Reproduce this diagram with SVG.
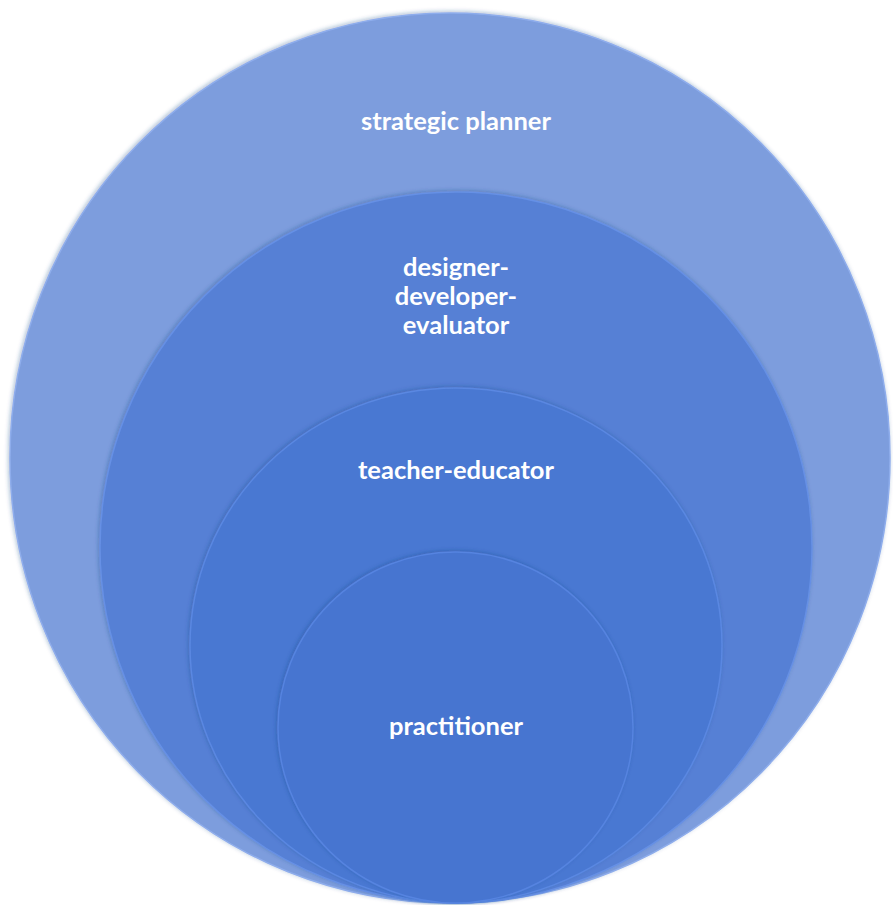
<svg xmlns="http://www.w3.org/2000/svg" width="893" height="905" viewBox="0 0 893 905">
  <defs>
    <filter id="sh" x="-5%" y="-5%" width="110%" height="110%">
      <feDropShadow dx="-1" dy="-1" stdDeviation="2" flood-color="#1f3f80" flood-opacity="0.35"/>
    </filter>
  </defs>
  <style>
    .ring { filter: url(#sh); }
    .lbl { font-family: "Lato", "Liberation Sans", sans-serif; font-weight: bold; font-size: 25.5px; fill: #ffffff; text-anchor: middle; }
  </style>
  <rect width="893" height="905" fill="#ffffff"/>
  <g id="strategic-planner">
    <ellipse class="ring" cx="450" cy="458" rx="440" ry="445" fill="#7d9ddd" stroke="#8eadec" stroke-width="1.5"/>
    <text class="lbl" x="456" y="130">strategic planner</text>
  </g>
  <g id="designer-developer-evaluator">
    <ellipse class="ring" cx="456" cy="547.5" rx="356" ry="355.5" fill="#5680d5" stroke="#6690e5" stroke-width="1.5"/>
    <text class="lbl" x="456" y="276">designer-</text>
    <text class="lbl" x="456" y="305">developer-</text>
    <text class="lbl" x="456" y="334">evaluator</text>
  </g>
  <g id="teacher-educator">
    <ellipse class="ring" cx="456" cy="645.5" rx="266" ry="257.5" fill="#4a78d2" stroke="#5a88e2" stroke-width="1.5"/>
    <text class="lbl" x="456" y="479">teacher-educator</text>
  </g>
  <g id="practitioner">
    <ellipse class="ring" cx="455.5" cy="727.5" rx="177.5" ry="175.5" fill="#4674d0" stroke="#5684e0" stroke-width="1.5"/>
    <text class="lbl" x="456" y="735">practitioner</text>
  </g>
  <g id="connectors"/>
</svg>
